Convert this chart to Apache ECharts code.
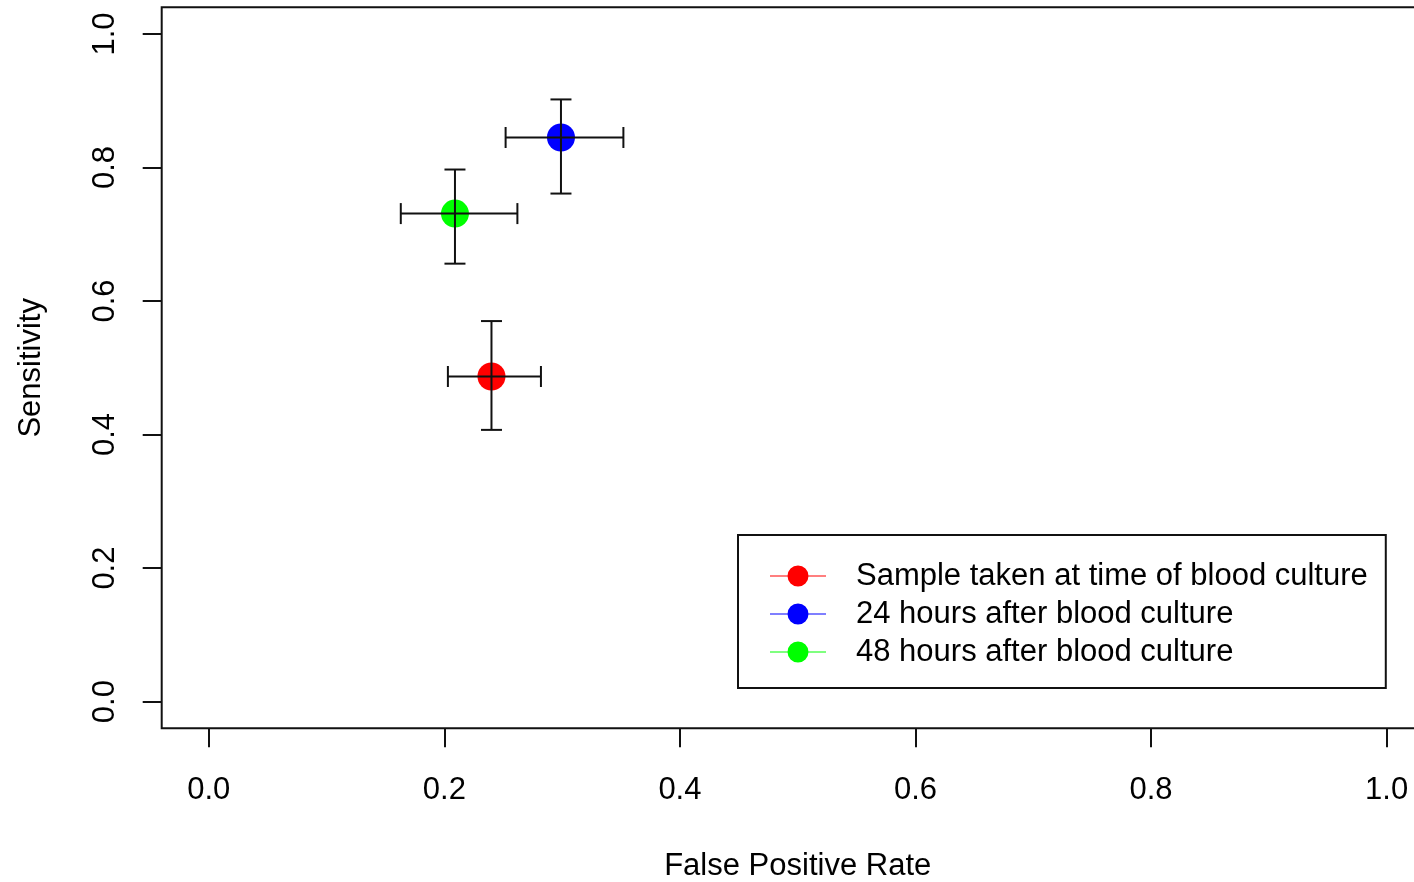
<!DOCTYPE html>
<html>
<head>
<meta charset="utf-8">
<title>Sensitivity vs False Positive Rate</title>
<script src="https://cdn.jsdelivr.net/npm/echarts@6/dist/echarts.min.js"></script>
<style>
  html, body { margin: 0; padding: 0; background: #fff; overflow: hidden; }
  #chart { width: 1414px; height: 882px; }
</style>
</head>
<body>
<div id="chart"></div>
<script>
// Diagnostic accuracy at three sampling times, with 95% confidence intervals
const groups = [
  'Sample taken at time of blood culture',
  '24 hours after blood culture',
  '48 hours after blood culture'
];
const colors = ['#ff0000', '#0000ff', '#00ff00'];
const fpr = [0.240, 0.299, 0.209];
const fprLow = [0.203, 0.252, 0.163];
const fprHigh = [0.282, 0.352, 0.262];
const sens = [0.487, 0.845, 0.731];
const sensLow = [0.407, 0.761, 0.656];
const sensHigh = [0.570, 0.902, 0.797];
const tickValues = [0, 0.2, 0.4, 0.6, 0.8, 1.0];

const FONT = "'Liberation Sans', Arial, sans-serif";
const FS = 31;

// legend glyph: short coloured line with a filled dot in the middle
const legendIcon = 'path://M0,10.5 H56 V11.5 H0 Z M28,0.5 A10.5,10.5 0 1 1 28,21.5 A10.5,10.5 0 1 1 28,0.5 Z';

const chart = echarts.init(document.getElementById('chart'), null, { renderer: 'canvas' });

const pointSeries = groups.map((name, i) => ({
  type: 'scatter',
  name: name,
  symbol: 'circle',
  symbolSize: 28,
  itemStyle: { color: colors[i], opacity: 1 },
  emphasis: { disabled: true },
  z: 2,
  data: [[fpr[i], sens[i]]]
}));

const errData = groups.map((_, i) => [fpr[i], sens[i], fprLow[i], fprHigh[i], sensLow[i], sensHigh[i]]);

const errorSeries = {
  type: 'custom',
  name: 'ci',
  z: 3,
  clip: false,
  encode: { x: [0, 2, 3], y: [1, 4, 5] },
  data: errData,
  renderItem: function (params, api) {
    const x = api.value(0), y = api.value(1);
    const l = api.coord([api.value(2), y]);
    const r = api.coord([api.value(3), y]);
    const b = api.coord([x, api.value(4)]);
    const t = api.coord([x, api.value(5)]);
    const cap = 10.5;
    const style = { stroke: '#111', lineWidth: 2 };
    const seg = (x1, y1, x2, y2) => ({ type: 'line', shape: { x1, y1, x2, y2 }, style });
    return {
      type: 'group',
      children: [
        seg(l[0], l[1], r[0], r[1]),
        seg(l[0], l[1] - cap, l[0], l[1] + cap),
        seg(r[0], r[1] - cap, r[0], r[1] + cap),
        seg(b[0], b[1], t[0], t[1]),
        seg(b[0] - cap, b[1], b[0] + cap, b[1]),
        seg(t[0] - cap, t[1], t[0] + cap, t[1])
      ]
    };
  }
};

const option = {
  animation: false,
  backgroundColor: '#ffffff',
  textStyle: { fontFamily: FONT, color: '#000' },
  grid: {
    left: 161.7,
    top: 7.3,
    width: 1272,   // frame runs past the right edge of the canvas
    height: 721,
    outerBoundsMode: 'none',
    show: true,
    borderColor: '#111',
    borderWidth: 2,
    backgroundColor: 'transparent',
    containLabel: false
  },
  xAxis: {
    type: 'value',
    min: -0.04,
    max: 1.04,
    name: 'False Positive Rate',
    nameLocation: 'middle',
    nameGap: 123,
    nameTextStyle: { fontFamily: FONT, fontSize: FS, color: '#000' },
    axisLine: { show: false, onZero: false },
    splitLine: { show: false },
    axisTick: {
      show: true,
      inside: false,
      length: 19,
      customValues: tickValues,
      lineStyle: { color: '#111', width: 2 }
    },
    axisLabel: {
      show: true,
      margin: 47,
      customValues: tickValues,
      fontFamily: FONT,
      fontSize: FS,
      color: '#000',
      formatter: v => v.toFixed(1)
    }
  },
  yAxis: {
    type: 'value',
    min: -0.04,
    max: 1.04,
    name: 'Sensitivity',
    nameLocation: 'middle',
    nameGap: 115,
    nameTextStyle: { fontFamily: FONT, fontSize: FS, color: '#000' },
    axisLine: { show: false, onZero: false },
    splitLine: { show: false },
    axisTick: {
      show: true,
      inside: false,
      length: 19,
      customValues: tickValues,
      lineStyle: { color: '#111', width: 2 }
    },
    axisLabel: {
      show: true,
      rotate: 90,
      margin: 41,
      customValues: tickValues,
      fontFamily: FONT,
      fontSize: FS,
      color: '#000',
      formatter: v => v.toFixed(1)
    }
  },
  legend: {
    orient: 'vertical',
    left: 738,
    top: 535,
    padding: [22, 18, 17, 32],
    itemGap: 0,
    itemWidth: 56,
    itemHeight: 22,
    borderColor: '#111',
    borderWidth: 2,
    backgroundColor: '#fff',
    selectedMode: false,
    textStyle: {
      fontFamily: FONT,
      fontSize: FS,
      color: '#000',
      lineHeight: 38,
      padding: [0, 0, 0, 25]
    },
    data: groups.map((name, i) => ({
      name: name,
      icon: legendIcon,
      itemStyle: { color: colors[i] }
    }))
  },
  series: [...pointSeries, errorSeries]
};

chart.setOption(option);
</script>
</body>
</html>
